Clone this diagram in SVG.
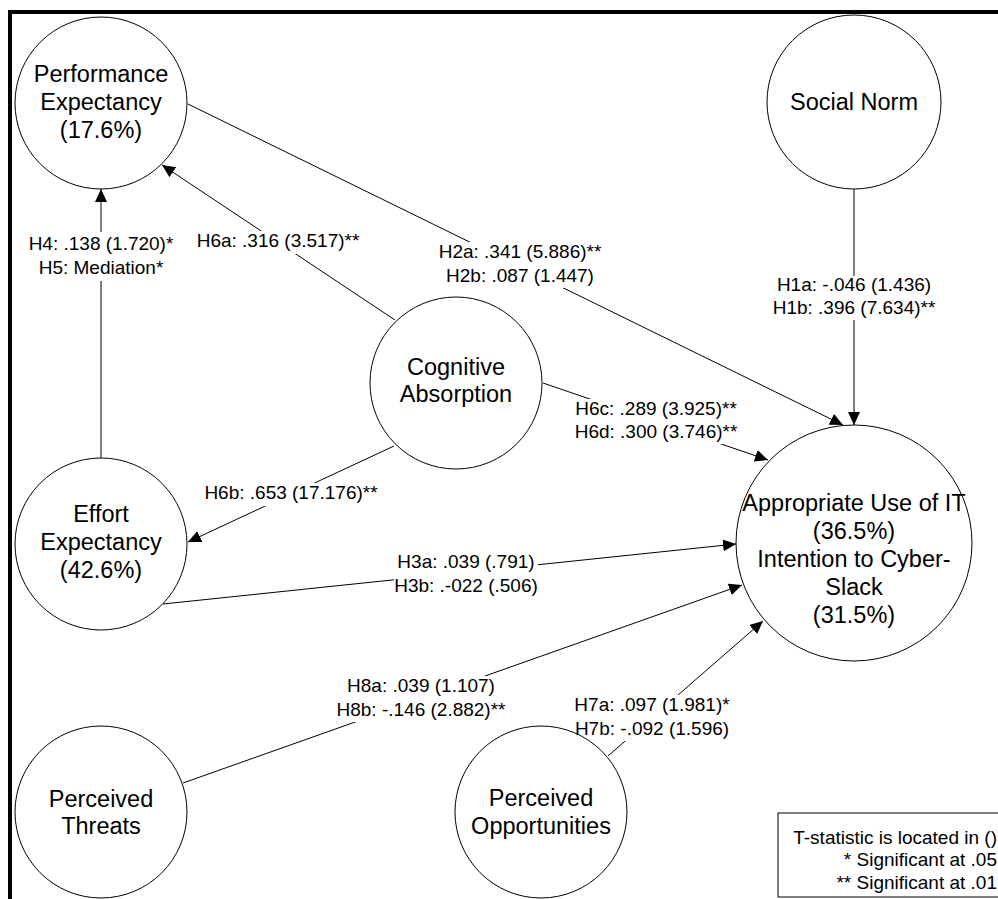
<svg xmlns="http://www.w3.org/2000/svg" width="998" height="899" viewBox="0 0 998 899">
<style>
.node circle{fill:none;stroke:#000;stroke-width:1}
.nt{font-family:"Liberation Sans",Arial,sans-serif;font-size:23.5px;fill:#000;text-anchor:middle}
.edge{stroke:#000;stroke-width:1;fill:none}
.lbg{fill:#fff}
.lt{font-family:"Liberation Sans",Arial,sans-serif;font-size:19px;fill:#000;text-anchor:middle}
.leg{font-family:"Liberation Sans",Arial,sans-serif;font-size:19px;fill:#000;text-anchor:end}
</style>
<defs>
<marker id="arr" markerUnits="userSpaceOnUse" markerWidth="14" markerHeight="12" refX="13" refY="6" orient="auto">
<path d="M0,0 L13,6 L0,12 z" fill="#000"/>
</marker>
</defs>
<rect width="998" height="899" fill="#fff"/>
<g id="frame">
<rect x="8" y="10" width="990" height="4" fill="#000"/>
<rect x="8" y="10" width="4" height="889" fill="#000"/>
</g>
<g id="connectors">
<line class="edge" x1="101" y1="458" x2="101" y2="189" marker-end="url(#arr)"/>
<line class="edge" x1="395" y1="320" x2="162" y2="165" marker-end="url(#arr)"/>
<line class="edge" x1="188" y1="104" x2="843" y2="425" marker-end="url(#arr)"/>
<line class="edge" x1="854" y1="189" x2="854" y2="425" marker-end="url(#arr)"/>
<line class="edge" x1="543" y1="383" x2="768" y2="460" marker-end="url(#arr)"/>
<line class="edge" x1="394" y1="446" x2="188" y2="542" marker-end="url(#arr)"/>
<line class="edge" x1="163" y1="604" x2="736" y2="544" marker-end="url(#arr)"/>
<line class="edge" x1="183" y1="783" x2="742" y2="585" marker-end="url(#arr)"/>
<line class="edge" x1="608" y1="756" x2="763" y2="621" marker-end="url(#arr)"/>
<g id="label-h4"><rect class="lbg" x="28" y="232" width="146" height="49"/><text class="lt" x="101" y="250">H4: .138 (1.720)*</text><text class="lt" x="101" y="274">H5: Mediation*</text></g>
<g id="label-h6a"><rect class="lbg" x="196" y="231" width="164" height="23"/><text class="lt" x="278" y="247">H6a: .316 (3.517)**</text></g>
<g id="label-h2"><rect class="lbg" x="437" y="242" width="166" height="46"/><text class="lt" x="520" y="258">H2a: .341 (5.886)**</text><text class="lt" x="520" y="282">H2b: .087 (1.447)</text></g>
<g id="label-h1"><rect class="lbg" x="776" y="276" width="156" height="44"/><text class="lt" x="854" y="291">H1a: -.046 (1.436)</text><text class="lt" x="854" y="314">H1b: .396 (7.634)**</text></g>
<g id="label-h6c"><rect class="lbg" x="574" y="399" width="164" height="45"/><text class="lt" x="656" y="415">H6c: .289 (3.925)**</text><text class="lt" x="656" y="438">H6d: .300 (3.746)**</text></g>
<g id="label-h6b"><rect class="lbg" x="204" y="483" width="174" height="23"/><text class="lt" x="291" y="499">H6b: .653 (17.176)**</text></g>
<g id="label-h3"><rect class="lbg" x="394" y="553" width="144" height="45"/><text class="lt" x="466" y="568">H3a: .039 (.791)</text><text class="lt" x="466" y="592">H3b: .-022 (.506)</text></g>
<g id="label-h8"><rect class="lbg" x="336" y="676" width="171" height="46"/><text class="lt" x="421" y="692">H8a: .039 (1.107)</text><text class="lt" x="421" y="716">H8b: -.146 (2.882)**</text></g>
<g id="label-h7"><rect class="lbg" x="574" y="695" width="157" height="46"/><text class="lt" x="652" y="711">H7a: .097 (1.981)*</text><text class="lt" x="652" y="735">H7b: -.092 (1.596)</text></g>
</g>
<g id="node-pe" class="node"><circle cx="101" cy="103" r="86"/><text class="nt" x="101" y="82">Performance</text><text class="nt" x="101" y="110">Expectancy</text><text class="nt" x="101" y="138">(17.6%)</text></g>
<g id="node-sn" class="node"><circle cx="854" cy="102" r="87"/><text class="nt" x="854" y="110">Social Norm</text></g>
<g id="node-ca" class="node"><circle cx="456" cy="383" r="86"/><text class="nt" x="456" y="375">Cognitive</text><text class="nt" x="456" y="402">Absorption</text></g>
<g id="node-ee" class="node"><circle cx="101" cy="544" r="86"/><text class="nt" x="101" y="522">Effort</text><text class="nt" x="101" y="550">Expectancy</text><text class="nt" x="101" y="578">(42.6%)</text></g>
<g id="node-au" class="node"><circle cx="854" cy="543" r="118"/><text class="nt" x="854" y="511">Appropriate Use of IT</text><text class="nt" x="854" y="539">(36.5%)</text><text class="nt" x="854" y="567">Intention to Cyber-</text><text class="nt" x="854" y="595">Slack</text><text class="nt" x="854" y="623">(31.5%)</text></g>
<g id="node-pt" class="node"><circle cx="101" cy="812" r="86"/><text class="nt" x="101" y="807">Perceived</text><text class="nt" x="101" y="834">Threats</text></g>
<g id="node-po" class="node"><circle cx="541" cy="812" r="86"/><text class="nt" x="541" y="806">Perceived</text><text class="nt" x="541" y="834">Opportunities</text></g>
<g id="legend"><rect x="778" y="813" width="230" height="84" fill="#fff" stroke="#000" stroke-width="1"/><text class="leg" x="997" y="844">T-statistic is located in ()</text><text class="leg" x="997" y="866">* Significant at .05</text><text class="leg" x="997" y="889">** Significant at .01</text></g>
</svg>
